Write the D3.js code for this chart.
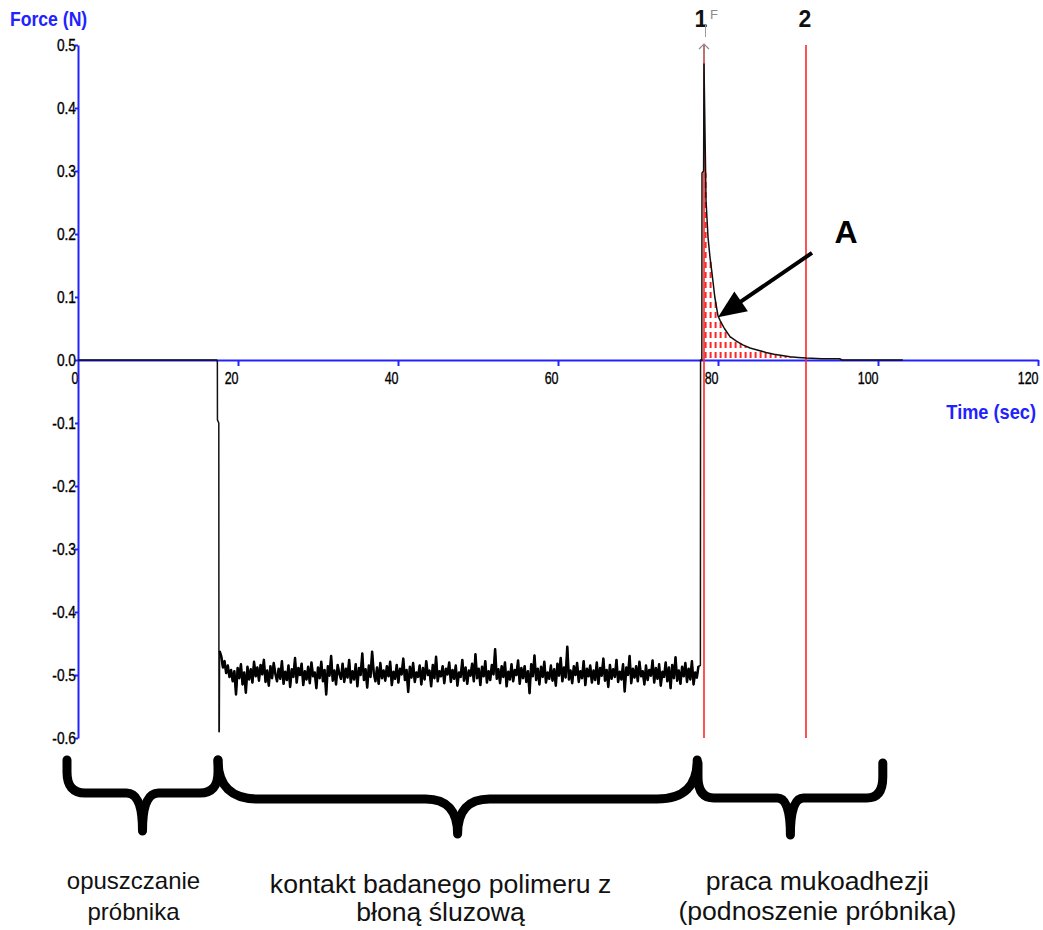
<!DOCTYPE html>
<html><head><meta charset="utf-8">
<script src="https://cdn.jsdelivr.net/npm/d3@7"></script>
<style>body{margin:0;background:#fff}svg{display:block}</style>
</head><body><svg id="c" width="1043" height="930"></svg>
<script>
// ---------- DATA ----------
const xTicks = [0, 20, 40, 60, 80, 100, 120];
const yTicks = [0.5, 0.4, 0.3, 0.2, 0.1, 0.0, -0.1, -0.2, -0.3, -0.4, -0.5, -0.6];
const xTitle = "Time (sec)";
const yTitle = "Force (N)";

// probe lowering, then contact
const approachT = [0, 17.35, 17.42, 17.43, 17.6, 17.62, 17.66];
const approachF = [0, 0, -0.003, -0.095, -0.1, -0.59, -0.59];

// contact phase (noisy plateau)
const noiseStart = 17.7, noiseEnd = 77.56;
const noiseF = [
-0.462,-0.470,-0.488,-0.478,-0.497,-0.485,-0.503,-0.492,-0.510,-0.494,-0.531,-0.489,-0.505,-0.483,-0.515,-0.496,-0.528,-0.487,-0.507,-0.491,
-0.512,-0.479,-0.502,-0.488,-0.509,-0.484,-0.499,-0.476,-0.511,-0.493,-0.517,-0.486,-0.505,-0.481,-0.498,-0.510,-0.490,-0.506,-0.478,-0.514,
-0.495,-0.508,-0.485,-0.519,-0.491,-0.503,-0.473,-0.512,-0.489,-0.500,-0.482,-0.516,-0.494,-0.507,-0.487,-0.513,-0.480,-0.502,-0.496,-0.521,
-0.488,-0.505,-0.479,-0.510,-0.492,-0.531,-0.486,-0.501,-0.470,-0.509,-0.493,-0.515,-0.484,-0.498,-0.506,-0.482,-0.511,-0.490,-0.504,-0.476,
-0.512,-0.494,-0.507,-0.483,-0.518,-0.489,-0.500,-0.466,-0.508,-0.491,-0.520,-0.485,-0.503,-0.463,-0.497,-0.510,-0.488,-0.514,-0.481,-0.505,
-0.493,-0.509,-0.486,-0.502,-0.479,-0.516,-0.495,-0.506,-0.484,-0.512,-0.490,-0.499,-0.474,-0.508,-0.492,-0.527,-0.487,-0.504,-0.481,-0.511,
-0.496,-0.503,-0.485,-0.515,-0.489,-0.507,-0.478,-0.500,-0.493,-0.518,-0.484,-0.505,-0.471,-0.510,-0.494,-0.502,-0.486,-0.513,-0.490,-0.499,
-0.480,-0.511,-0.492,-0.506,-0.485,-0.517,-0.496,-0.503,-0.476,-0.509,-0.488,-0.514,-0.493,-0.501,-0.482,-0.510,-0.467,-0.505,-0.490,-0.516,
-0.487,-0.502,-0.478,-0.512,-0.494,-0.508,-0.484,-0.499,-0.459,-0.506,-0.491,-0.513,-0.486,-0.503,-0.480,-0.518,-0.495,-0.507,-0.483,-0.510,
-0.492,-0.500,-0.477,-0.514,-0.489,-0.505,-0.486,-0.511,-0.494,-0.529,-0.483,-0.502,-0.469,-0.508,-0.490,-0.515,-0.487,-0.503,-0.479,-0.512,
-0.496,-0.506,-0.485,-0.509,-0.491,-0.517,-0.482,-0.501,-0.473,-0.510,-0.488,-0.504,-0.455,-0.507,-0.493,-0.513,-0.486,-0.500,-0.481,-0.511,
-0.494,-0.505,-0.478,-0.516,-0.490,-0.502,-0.485,-0.512,-0.493,-0.508,-0.480,-0.514,-0.489,-0.501,-0.474,-0.509,-0.492,-0.519,-0.484,-0.506,
-0.491,-0.503,-0.476,-0.511,-0.495,-0.507,-0.483,-0.526,-0.488,-0.500,-0.470,-0.513,-0.490,-0.504,-0.486,-0.510,-0.479,-0.502,-0.494,-0.515,
-0.485,-0.508,-0.492,-0.501,-0.477,-0.512,-0.489,-0.506,-0.483,-0.517,-0.495,-0.503,-0.480,-0.510,-0.488,-0.521,-0.484,-0.505,-0.472,-0.509,
-0.493,-0.514,-0.487,-0.502,-0.481,-0.511,-0.490,-0.507,-0.478,-0.515,-0.496,-0.504,-0.486
];

// probe lifting (mucoadhesion work)
const liftT = [77.8, 77.82, 77.98, 78.0, 78.2, 78.25, 78.5, 78.75, 79.0, 79.25, 79.6, 80.0, 80.25, 80.8, 81.5, 82.3, 83.1, 84.0, 84.9, 86.0, 87.0, 88.0, 89.0, 90.0, 91.0, 93.0, 95.2, 95.5, 103.1];
const liftF = [-0.485, 0.0, 0.0, 0.297, 0.300, 0.470, 0.254, 0.195, 0.163, 0.138, 0.100, 0.070, 0.063, 0.050, 0.037, 0.030, 0.024, 0.019, 0.016, 0.012, 0.009, 0.007, 0.005, 0.004, 0.003, 0.002, 0.002, 0.0, 0.0];

const markers = [{label: "1", t: 78.25}, {label: "2", t: 91.0}];
const hatchFrom = 78.45, hatchTo = 89.4, hatchStep = 0.625;
const arrowFrom = [91.75, 0.17], arrowTo = [80.0, 0.068];
const arrowLabel = {text: "A", t: 96.0, f: 0.186};

const phases = [
  {from: -1.375, to: 17.5, lines: ["opuszczanie", "próbnika"]},
  {from: 17.5, to: 77.4, lines: ["kontakt badanego polimeru z", "błoną śluzową"]},
  {from: 77.5, to: 100.6, lines: ["praca mukoadhezji", "(podnoszenie próbnika)"]}
];

// ---------- CHART ----------
const svg = d3.select("#c");
const x = d3.scaleLinear().domain([0, 120]).range([78, 1038]);
const y = d3.scaleLinear().domain([-0.6, 0.5]).range([738, 45]);
const blue = "#2222ff", red = "#ff2626";
const sans = "'Liberation Sans',Arial,sans-serif";

// assemble series
const pts = [];
approachT.forEach((t, i) => pts.push([t, approachF[i]]));
const step = (noiseEnd - noiseStart) / (noiseF.length - 1);
const noisePts = noiseF.map((f, i) => [noiseStart + i * step, f]);
noisePts.forEach(p => pts.push(p));
liftT.forEach((t, i) => pts.push([t, liftF[i]]));

// axes (condensed look via horizontal scaling of the label glyphs)
const fmt = d => (Math.abs(d) < 1e-9 ? "0.0" : d3.format(".1f")(d)).replace("−", "-");
const kx = 0.78, ky = 0.86;
const gx = svg.append("g").attr("transform", `translate(0,${y(0)})`)
  .call(d3.axisBottom(x).tickValues(xTicks).tickSize(6).tickSizeOuter(0).tickFormat(d3.format("d")));
gx.select(".domain").attr("stroke", blue).attr("stroke-width", 2);
gx.selectAll(".tick line").attr("stroke", blue).attr("stroke-width", 2);
gx.selectAll(".tick").filter(d => d === 0).select("line").remove();
gx.selectAll(".tick text").attr("text-anchor", "end").attr("x", 0).attr("y", 13)
  .attr("transform", `scale(${kx},1)`)
  .attr("font-family", sans).attr("font-size", 16).attr("fill", "#000")
  .attr("stroke", "#000").attr("stroke-width", 0.35);

const gy = svg.append("g").attr("transform", `translate(${x(0)},0)`)
  .call(d3.axisLeft(y).tickValues(yTicks).tickSize(3).tickPadding(0).tickSizeOuter(0).tickFormat(fmt));
gy.select(".domain").attr("stroke", blue).attr("stroke-width", 2);
gy.selectAll(".tick line").attr("stroke", blue).attr("stroke-width", 2);
gy.selectAll(".tick text").attr("font-family", sans).attr("font-size", 16).attr("fill", "#000")
  .attr("stroke", "#000").attr("stroke-width", 0.35)
  .attr("x", -2 / ky).attr("transform", `scale(${ky},1)`);

svg.append("g").attr("transform", "translate(10,26)")
  .append("text").attr("transform", "scale(0.88,1)").text(yTitle)
  .attr("font-family", sans).attr("font-weight", "bold").attr("font-size", 20).attr("fill", blue);
svg.append("g").attr("transform", "translate(1036,419)")
  .append("text").attr("transform", "scale(0.91,1)").attr("text-anchor", "end").text(xTitle)
  .attr("font-family", sans).attr("font-weight", "bold").attr("font-size", 20).attr("fill", blue);

// hatched area (work of adhesion)
const valAt = t => {
  const i = d3.bisectRight(liftT, t);
  if (i <= 0) return liftF[0];
  if (i >= liftT.length) return liftF[liftF.length - 1];
  const t0 = liftT[i - 1], t1 = liftT[i];
  return liftF[i - 1] + (liftF[i] - liftF[i - 1]) * (t - t0) / (t1 - t0);
};
const hatchT = d3.range(hatchFrom, hatchTo, hatchStep);
svg.append("g").selectAll("line").data(hatchT).join("line")
  .attr("x1", d => x(d)).attr("x2", d => x(d))
  .attr("y1", y(0) - 2).attr("y2", d => y(valAt(d)))
  .attr("stroke", red).attr("stroke-width", 2).attr("stroke-dasharray", "6,4");

// marker lines
svg.append("g").selectAll("line").data(markers).join("line")
  .attr("x1", d => x(d.t)).attr("x2", d => x(d.t))
  .attr("y1", y(0.5)).attr("y2", y(-0.6))
  .attr("stroke", red).attr("stroke-width", 1.6);
svg.append("g").selectAll("text").data(markers).join("text")
  .attr("x", (d, i) => x(d.t) - (i === 0 ? 3 : 1)).attr("y", 27).attr("text-anchor", "middle")
  .attr("font-family", sans).attr("font-weight", "bold").attr("font-size", 23).attr("fill", "#111")
  .text(d => d.label);
// force marker (gray F with arrow)
const fx = x(markers[0].t);
svg.append("text").attr("x", fx + 6).attr("y", 19).text("F")
  .attr("font-family", sans).attr("font-size", 13).attr("fill", "#8c8c8c");
svg.append("line").attr("x1", fx + 1.5).attr("x2", fx + 1.5).attr("y1", 25).attr("y2", 37)
  .attr("stroke", "#9a9a9a").attr("stroke-width", 1);
svg.append("line").attr("x1", fx).attr("x2", fx).attr("y1", 44).attr("y2", 62)
  .attr("stroke", "#8c8c8c").attr("stroke-width", 1.2);
svg.append("path").attr("d", `M${fx - 5},${49} L${fx},${44} L${fx + 5},${49}`)
  .attr("fill", "none").attr("stroke", "#8c8c8c").attr("stroke-width", 1.2);

// data line
const line = d3.line().x(d => x(d[0])).y(d => y(d[1]));
svg.append("path").datum(pts).attr("d", line)
  .attr("fill", "none").attr("stroke", "#111").attr("stroke-width", 1.5).attr("stroke-linejoin", "round");
svg.append("path").datum(noisePts).attr("d", line)
  .attr("fill", "none").attr("stroke", "#000").attr("stroke-width", 2.5).attr("stroke-linejoin", "round");

// arrow A
{
  const x0 = x(arrowFrom[0]), y0 = y(arrowFrom[1]), x1 = x(arrowTo[0]), y1 = y(arrowTo[1]);
  const dx = x1 - x0, dy = y1 - y0, L = Math.hypot(dx, dy), ux = dx / L, uy = dy / L;
  const hl = 28, hw = 12;
  const bx = x1 - hl * ux, by = y1 - hl * uy;
  svg.append("line").attr("x1", x0).attr("y1", y0).attr("x2", bx + 4 * ux).attr("y2", by + 4 * uy)
    .attr("stroke", "#000").attr("stroke-width", 4);
  svg.append("path").attr("d", `M${x1},${y1} L${bx - hw * uy},${by + hw * ux} L${bx + hw * uy},${by - hw * ux} Z`)
    .attr("fill", "#000");
  svg.append("text").attr("x", x(arrowLabel.t)).attr("y", y(arrowLabel.f)).attr("text-anchor", "middle")
    .attr("font-family", sans).attr("font-weight", "bold").attr("font-size", 32).attr("fill", "#000")
    .text(arrowLabel.text);
}

// braces
const braceGeo = [
  {yTop: 760, yH: 793, yTip: 831, r: 18, r2: 16, v: 12, fs: 24, b1: 889, b2: 920, dx: -9},
  {yTop: 760, yH: 799, yTip: 834, r: 40, r2: 32, v: 0, fs: 26.6, b1: 893, b2: 921, dx: -17},
  {yTop: 763, yH: 798, yTip: 835, r: 16, r2: 13, v: 14, fs: 26.6, b1: 890, b2: 920, dx: 27}
];
function bracePath(x0, x1, g) {
  const xm = (x0 + x1) / 2;
  return `M${x0},${g.yTop} L${x0},${g.yTop + g.v} Q${x0},${g.yH} ${x0 + g.r},${g.yH} L${xm - g.r2},${g.yH} Q${xm},${g.yH} ${xm},${g.yTip}` +
         ` M${x1},${g.yTop} L${x1},${g.yTop + g.v} Q${x1},${g.yH} ${x1 - g.r},${g.yH} L${xm + g.r2},${g.yH} Q${xm},${g.yH} ${xm},${g.yTip}`;
}
phases.forEach((p, i) => {
  const g = braceGeo[i], x0 = x(p.from), x1 = x(p.to), xm = (x0 + x1) / 2;
  svg.append("path").attr("d", bracePath(x0, x1, g))
    .attr("fill", "none").attr("stroke", "#000").attr("stroke-width", 9)
    .attr("stroke-linecap", "round").attr("stroke-linejoin", "round");
  p.lines.forEach((ln, j) => {
    svg.append("text").attr("x", xm + g.dx).attr("y", j === 0 ? g.b1 : g.b2).attr("text-anchor", "middle")
      .attr("font-family", sans).attr("font-size", g.fs).attr("fill", "#111").text(ln);
  });
});
</script></body></html>
